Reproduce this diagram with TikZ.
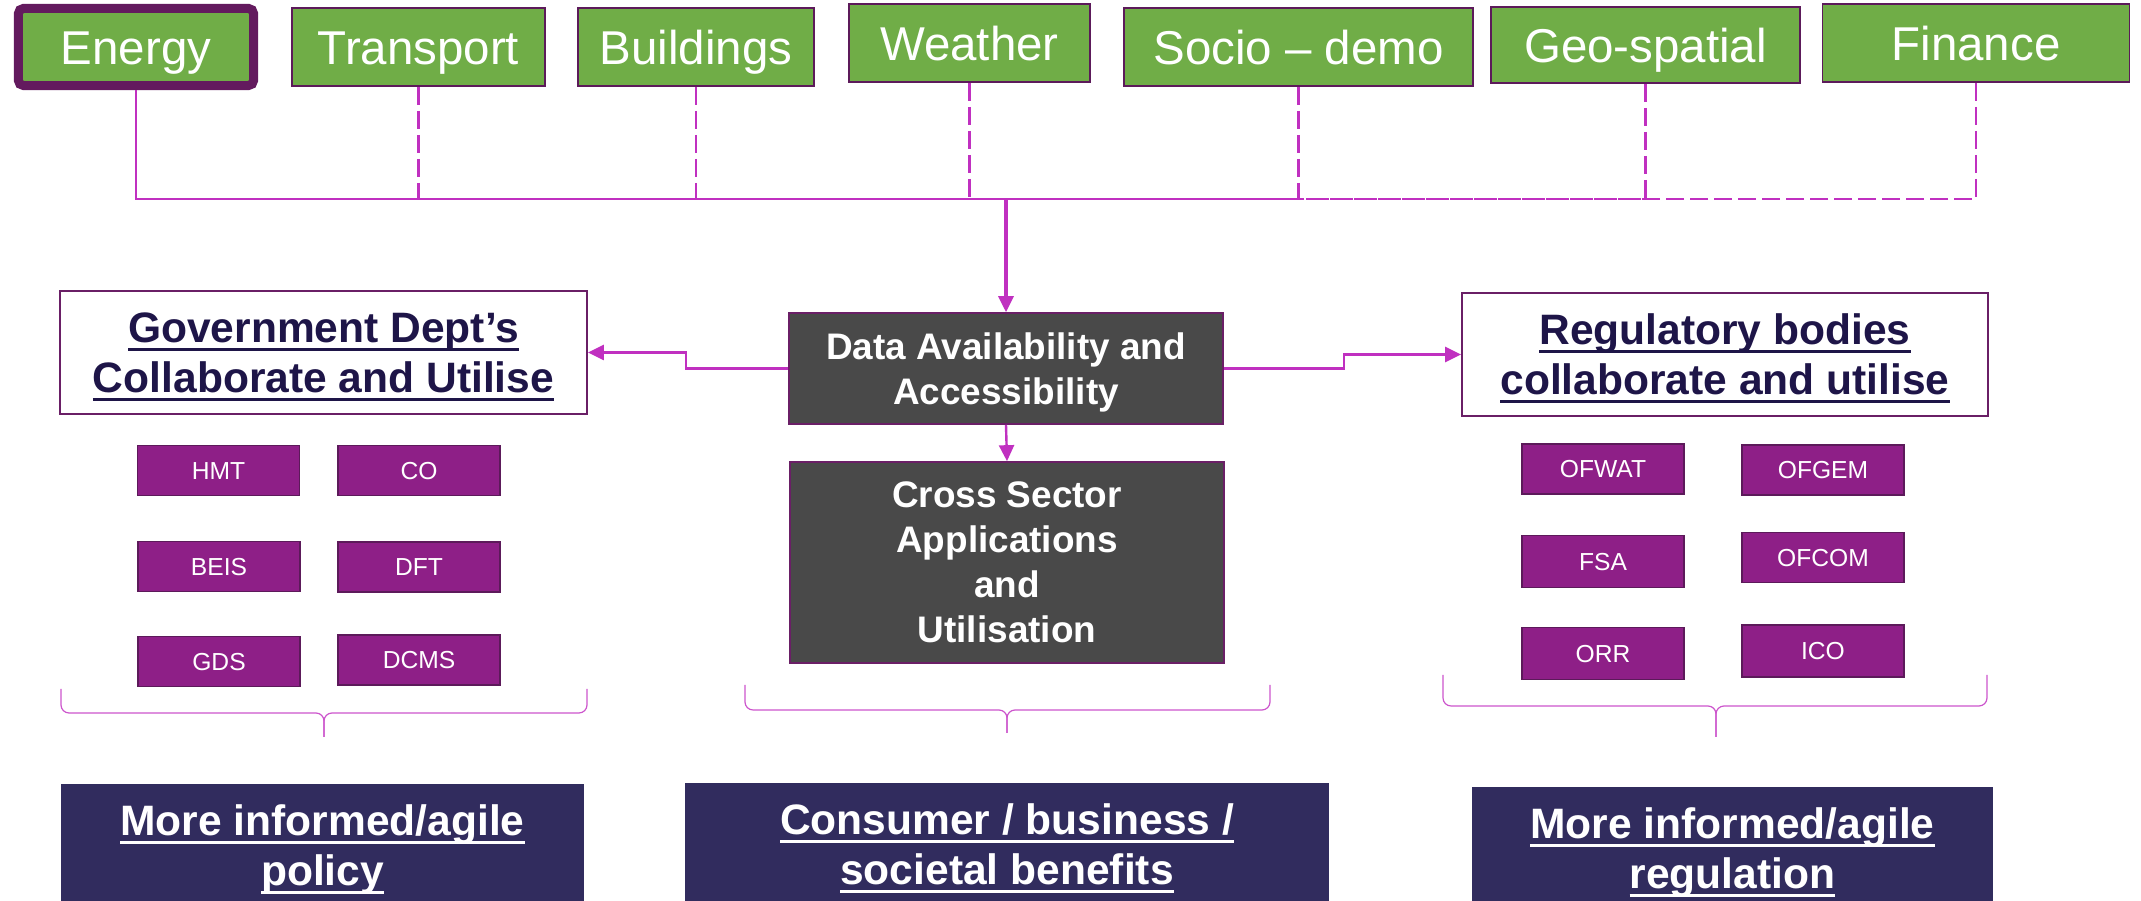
\documentclass[tikz,border=0pt]{standalone}
\usepackage{fontspec}
\setmainfont{Liberation Sans}
\usetikzlibrary{arrows.meta}

\newsavebox{\ulbox}
\newcommand{\ulined}[1]{\sbox{\ulbox}{#1}\raisebox{0pt}[\height][0pt]{\rlap{\rule[-2.4pt]{\wd\ulbox}{0.9pt}}\usebox{\ulbox}}}
\newcommand{\nodepth}[1]{\raisebox{0pt}[\height][0pt]{#1}}

\definecolor{sectorgreen}{HTML}{70AD47}
\definecolor{sectorline}{HTML}{5C1A5A}
\definecolor{energyframe}{HTML}{631A5E}
\definecolor{linkcol}{HTML}{C030C0}
\definecolor{bracecol}{HTML}{CC55CC}
\definecolor{hubgrey}{HTML}{494949}
\definecolor{boxline}{HTML}{6A1F66}
\definecolor{titletext}{HTML}{1E1548}
\definecolor{orgpurple}{HTML}{8E1F87}
\definecolor{outcomenavy}{HTML}{312C5E}

\begin{document}
\begin{tikzpicture}[
    x=0.01cm, y=-0.01cm,
    sector/.style={draw=sectorline, fill=sectorgreen, line width=0.015cm, minimum height=0.78cm, inner sep=0pt, text height=9.7pt, text depth=0pt, text=white, font=\fontsize{13.5}{16}\selectfont},
    hubbox/.style={draw=boxline, fill=hubgrey, line width=0.015cm, minimum width=4.34cm, inner sep=0pt, text=white, align=center, font=\fontsize{10.5}{12.8}\selectfont\bfseries},
    titlebox/.style={draw=boxline, fill=white, line width=0.015cm, minimum width=5.27cm, minimum height=1.23cm, inner sep=0pt, text=titletext, align=center, font=\fontsize{12.1}{14.2}\selectfont\bfseries},
    org/.style={draw=sectorline, fill=orgpurple, line width=0.015cm, minimum width=1.62cm, minimum height=0.5cm, inner sep=0pt, text height=5pt, text depth=0pt, text=white, font=\fontsize{7}{8}\selectfont},
    outcome/.style={fill=outcomenavy, minimum height=1.22cm, inner sep=0pt, text=white, align=center, font=\fontsize{12.1}{14.2}\selectfont\bfseries},
    link/.style={draw=linkcol, line width=0.024cm},
    dashlink/.style={link, dash pattern=on 0.18cm off 0.06cm},
    arrow/.style={link, ->, >={Triangle[length=0.16cm,width=0.15cm]}},
    bracket/.style={draw=bracecol, line width=0.012cm, rounded corners=0.08cm}
]
    \useasboundingbox (0,0) rectangle (2141,901);
    \clip (0,0) rectangle (2141,901);

    % Sectors
    \node[sector, draw=energyframe, line width=0.09cm, rounded corners=0.05cm, minimum width=2.35cm, minimum height=0.77cm] (energy) at (136,47) {Energy};
    \node[sector, minimum width=2.53cm] (transport) at (418.5,47) {Transport};
    \node[sector, minimum width=2.36cm] (buildings) at (696,47) {Buildings};
    \node[sector, minimum width=2.41cm] (weather) at (969.5,43) {Weather};
    \node[sector, minimum width=3.49cm] (socio) at (1298.5,47) {Socio – demo};
    \node[sector, minimum width=3.09cm, minimum height=0.76cm] (geo) at (1645.5,45) {Geo-spatial};
    \node[sector, minimum width=3.07cm] (finance) at (1976,43) {Finance};

    % Centre
    \node[hubbox, minimum height=1.11cm] (data) at (1006,368.5) {Data Availability and\\\nodepth{Accessibility}};
    \node[hubbox, minimum height=2.01cm] (cross) at (1007,562.5) {Cross Sector\\Applications\\and\\Utilisation};

    % Users
    \node[titlebox] (gov) at (323.5,352.5) {\ulined{Government Dept’s}\\\ulined{Collaborate and Utilise}};
    \node[titlebox, minimum width=5.26cm] (reg) at (1725,354.5) {\ulined{Regulatory bodies}\\\ulined{collaborate and utilise}};

    \node[org] (hmt) at (218.5,470.5) {HMT};
    \node[org] (co) at (419,470.5) {CO};
    \node[org] (beis) at (219,566.5) {BEIS};
    \node[org] (dft) at (419,567) {DFT};
    \node[org] (gds) at (219,661.5) {GDS};
    \node[org] (dcms) at (419,660) {DCMS};

    \node[org] (ofwat) at (1603,469) {OFWAT};
    \node[org] (ofgem) at (1823,470) {OFGEM};
    \node[org, minimum height=0.52cm] (fsa) at (1603,561.5) {FSA};
    \node[org] (ofcom) at (1823,557.5) {OFCOM};
    \node[org, minimum height=0.52cm] (orr) at (1603,653.5) {ORR};
    \node[org, minimum height=0.52cm] (ico) at (1823,651) {ICO};

    % Outcomes
    \node[outcome, minimum width=5.23cm] (policy) at (322.5,845) {\ulined{More informed/agile}\\\ulined{policy}};
    \node[outcome, minimum width=6.43cm] (benefits) at (1007,844) {\ulined{Consumer / business /}\\\ulined{societal benefits}};
    \node[outcome, minimum width=5.21cm] (regulation) at (1732.5,848) {\ulined{More informed/agile}\\\ulined{regulation}};

    % Connections
    \coordinate (hub) at (1006,199);
    \draw[link] (energy.south) |- (hub);
    \foreach \s in {transport,buildings,weather,socio,geo,finance}
        \draw[dashlink] (\s.south) |- (hub);
    \draw[arrow, line width=0.032cm] (hub) -- (data.north);
    \draw[arrow] (data.south) -- (cross.north);
    \draw[arrow] (data.west) -- ++(-102,0) |- (gov.east);
    \draw[arrow] (data.east) -- ++(120,0) |- (reg.west);

    % Braces
    \draw[bracket] (61,689) |- (324,713) -- (324,737);
    \draw[bracket] (587,689) |- (324,713) -- (324,737);
    \draw[bracket] (745,685) |- (1007,710) -- (1007,733);
    \draw[bracket] (1270,685) |- (1007,710) -- (1007,733);
    \draw[bracket] (1443,675) |- (1716,706) -- (1716,737);
    \draw[bracket] (1987,675) |- (1716,706) -- (1716,737);
\end{tikzpicture}
\end{document}
